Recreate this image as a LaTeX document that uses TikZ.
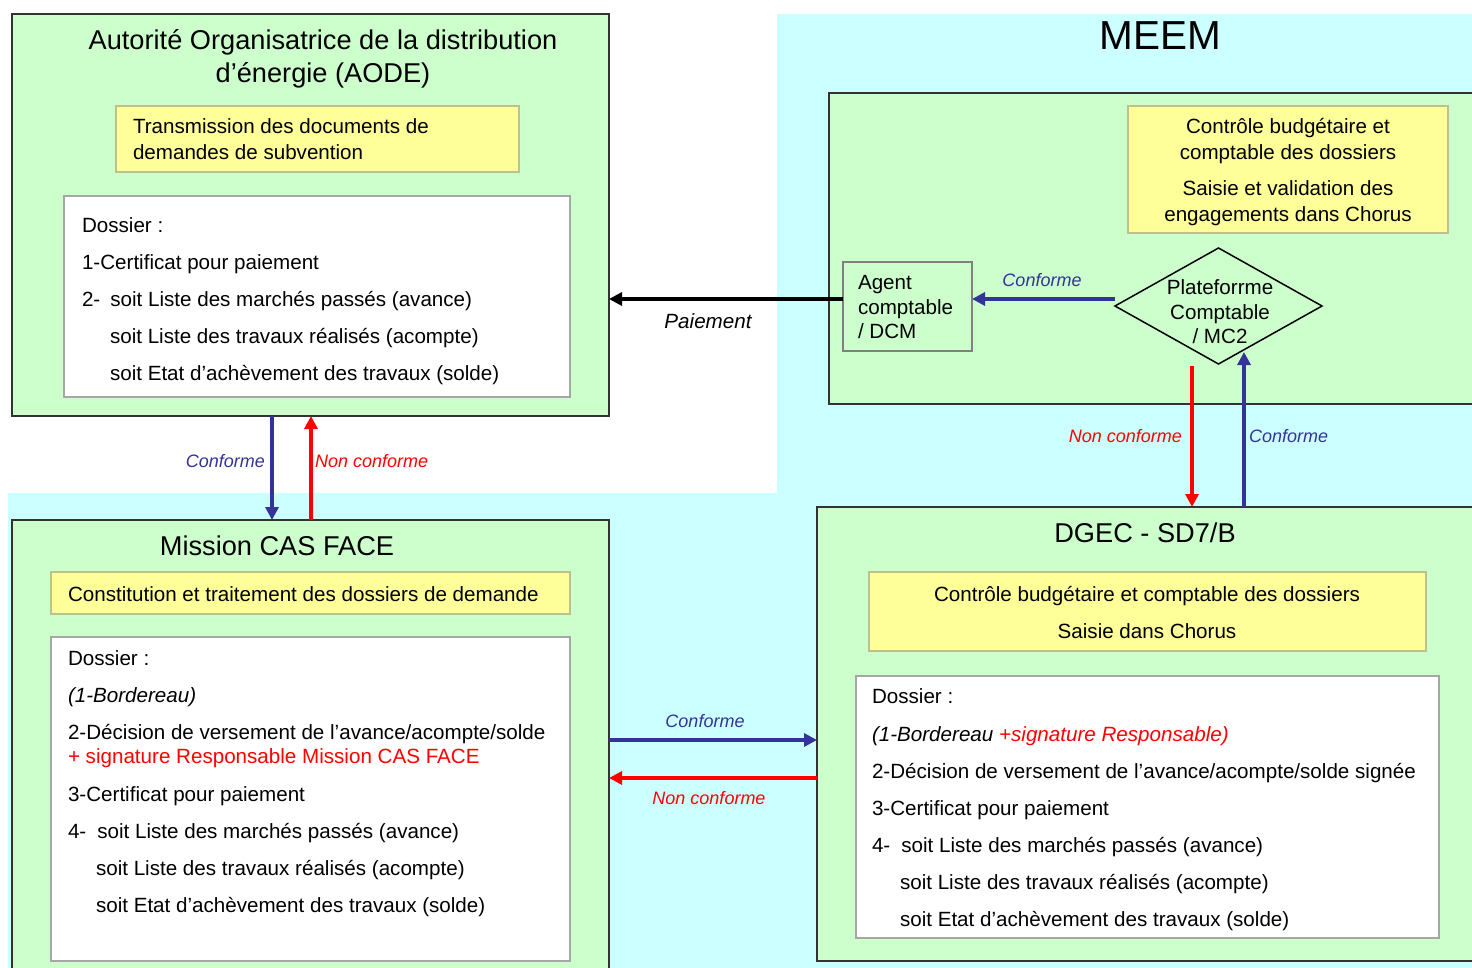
\documentclass[tikz,border=0pt]{standalone}
\usepackage{fontspec}
\setmainfont{Liberation Sans}
\usetikzlibrary{arrows.meta,shapes.geometric}
\definecolor{cgreen}{HTML}{CCFFCC}
\definecolor{ccyan}{HTML}{CCFFFF}
\definecolor{cyellow}{HTML}{FFFF99}
\definecolor{cblue}{HTML}{333399}
\definecolor{cred}{HTML}{FF0000}
\definecolor{cborder}{HTML}{333333}
\definecolor{cyborder}{HTML}{BFBF8F}
\definecolor{cwborder}{HTML}{A6A6A6}
\newcommand{\bodyfont}{\fontsize{20.6}{37}\selectfont}
\newcommand{\yfont}{\fontsize{20.6}{26}\selectfont}
\newcommand{\sfont}{\fontsize{20.6}{24.5}\selectfont}
\newcommand{\tfont}{\fontsize{27.2}{33}\selectfont}
\newcommand{\lfont}{\fontsize{18}{22}\selectfont\itshape}
\newcommand{\strutA}{\rule{0pt}{17pt}}
\newcommand{\strutT}{\rule{0pt}{22pt}}
\begin{document}
\begin{tikzpicture}[x=1pt,y=-1pt,
  panel/.style={draw=cborder,line width=2pt,fill=cgreen,anchor=north west,inner sep=0pt,outer sep=0pt},
  ybox/.style={draw=cyborder,line width=1.5pt,fill=cyellow,anchor=north west,inner sep=0pt,outer sep=0pt},
  wbox/.style={draw=cwborder,line width=1.5pt,fill=white,anchor=north west,inner sep=0pt,outer sep=0pt},
  gbox/.style={draw=gray,line width=1.2pt,fill=cgreen,anchor=north west,inner sep=0pt,outer sep=0pt},
  txt/.style={inner sep=0pt,outer sep=0pt,font=\bodyfont,align=left,anchor=north west},
  ttl/.style={inner sep=0pt,outer sep=0pt,font=\tfont,anchor=base},
  lbl/.style={inner sep=0pt,outer sep=0pt,font=\lfont},
  barrow/.style={line width=4pt,draw=cblue,-{Triangle[length=13pt,width=13pt]}},
  rarrow/.style={line width=4pt,draw=cred,-{Triangle[length=13pt,width=13pt]}},
  karrow/.style={line width=4pt,draw=black,-{Triangle[length=13pt,width=13pt]}}
]
\clip (0,0) rectangle (1472,968);
\fill[white] (0,0) rectangle (1472,968);
% cyan background
\fill[ccyan] (777,14) -- (1480,14) -- (1480,980) -- (8,980) -- (8,493) -- (777,493) -- cycle;

% ===== AODE =====
\node[panel,minimum width=597pt,minimum height=402pt] (aode) at (12,14) {};
\node[inner sep=0pt,outer sep=0pt,font=\tfont,align=center,anchor=north] (aodet) at (323,28)
  {\strutT Autorité Organisatrice de la distribution\\ d’énergie (AODE)};
\node[ybox,minimum width=403pt,minimum height=66pt] (aodey) at (116,106) {};
\node[txt,font=\yfont] (aodeyt) at (133,116.5) {\strutA Transmission des documents de\\ demandes de subvention};
\node[wbox,minimum width=506pt,minimum height=201pt] (aodew) at (64,196) {};
\node[txt] (aodewt) at (82,215.5) {\strutA Dossier :\\
1-Certificat pour paiement\\
2-\hspace{10pt}soit Liste des marchés passés (avance)\\
\hspace{28pt}soit Liste des travaux réalisés (acompte)\\
\hspace{28pt}soit Etat d’achèvement des travaux (solde)};

% ===== MEEM =====
\node[inner sep=0pt,outer sep=0pt,font=\fontsize{40.5}{48}\selectfont,anchor=base] (meemt) at (1160,50) {MEEM};
\node[panel,minimum width=700pt,minimum height=311pt] (meem) at (829,93) {};
\node[ybox,minimum width=320pt,minimum height=127pt] (meemy) at (1128,106) {};
\node[txt,font=\yfont,align=center,anchor=north] (meemyt) at (1288,116.5) {\strutA Contrôle budgétaire et\\
comptable des dossiers\\[10pt]
Saisie et validation des\\
engagements dans Chorus};
\node[gbox,minimum width=129pt,minimum height=89pt] (agent) at (843,262) {};
\node[txt,font=\sfont] (agentt) at (858,272.5) {\strutA Agent\\ comptable\\ / DCM};
\node[draw=black,line width=1.5pt,fill=cgreen,shape=diamond,inner sep=0pt,outer sep=0pt,minimum width=207pt,minimum height=116pt] (plat) at (1218.5,306) {};
\node[txt,font=\sfont,align=center,anchor=north] (platt) at (1220,277.5) {\strutA Plateforrme\\ Comptable\\ / MC2};

% ===== Mission CAS FACE =====
\node[panel,minimum width=597pt,minimum height=480pt] (mission) at (12,520) {};
\node[ttl] (missiont) at (277,555.5) {Mission CAS FACE};
\node[ybox,minimum width=519pt,minimum height=42pt] (missiony) at (51,572) {};
\node[txt] (missionyt) at (68,584.5) {\strutA Constitution et traitement des dossiers de demande};
\node[wbox,minimum width=519pt,minimum height=324pt] (missionw) at (51,637) {};
\node[txt] (missionwt) at (68,648.5) {\strutA Dossier :\\
\textit{(1-Bordereau)}\\
2-Décision de versement de l’avance/acompte/solde\\[-13pt]
{\color{cred}+ signature Responsable Mission CAS FACE}\\[1pt]
3-Certificat pour paiement\\
4-\hspace{11pt}soit Liste des marchés passés (avance)\\
\hspace{28pt}soit Liste des travaux réalisés (acompte)\\
\hspace{28pt}soit Etat d’achèvement des travaux (solde)};

% ===== DGEC =====
\node[panel,minimum width=700pt,minimum height=454pt] (dgec) at (817,507) {};
\node[ttl] (dgect) at (1145,542.5) {DGEC - SD7/B};
\node[ybox,minimum width=557pt,minimum height=79pt] (dgecy) at (869,572) {};
\node[txt,align=center,anchor=north] (dgecyt) at (1147,584.5) {\strutA Contrôle budgétaire et comptable des dossiers\\
Saisie dans Chorus};
\node[wbox,minimum width=583pt,minimum height=262pt] (dgecw) at (856,676) {};
\node[txt] (dgecwt) at (872,686.5) {\strutA Dossier :\\[1pt]
\textit{(1-Bordereau {\color{cred}+signature Responsable)}}\\
2-Décision de versement de l’avance/acompte/solde signée\\
3-Certificat pour paiement\\
4-\hspace{11pt}soit Liste des marchés passés (avance)\\
\hspace{28pt}soit Liste des travaux réalisés (acompte)\\
\hspace{28pt}soit Etat d’achèvement des travaux (solde)};

% ===== connectors =====
\coordinate (py) at (0,299);
\coordinate (xa) at (272,0);
\coordinate (xb) at (311,0);
\coordinate (xc) at (1192,0);
\coordinate (xd) at (1244,0);
\coordinate (ya) at (0,740);
\coordinate (yb) at (0,778);
\coordinate (redstart) at (1192,366);
\coordinate (blueend) at (1244,352);

\draw[karrow] (agent.west |- py) -- (aode.east |- py);
\node[lbl,font=\fontsize{20.6}{24}\selectfont\itshape,anchor=base] (paiement) at (708,328) {Paiement};

\draw[barrow] (plat.west |- py) -- (agent.east |- py);
\node[lbl,text=cblue,anchor=base] (conf1) at (1042,286.5) {Conforme};

\draw[rarrow] (redstart) -- (dgec.north -| xc);
\node[lbl,text=cred,anchor=base east] (nonconf1) at (1182,442.5) {Non conforme};
\draw[barrow] (dgec.north -| xd) -- (blueend);
\node[lbl,text=cblue,anchor=base west] (conf2) at (1249,442.5) {Conforme};

\draw[barrow] (aode.south -| xa) -- (mission.north -| xa);
\node[lbl,text=cblue,anchor=base east] (conf3) at (265,467.5) {Conforme};
\draw[rarrow] (mission.north -| xb) -- (aode.south -| xb);
\node[lbl,text=cred,anchor=base west] (nonconf3) at (315,467.5) {Non conforme};

\draw[barrow] (mission.east |- ya) -- (dgec.west |- ya);
\node[lbl,text=cblue,anchor=base] (conf4) at (705,727.5) {Conforme};
\draw[rarrow] (dgec.west |- yb) -- (mission.east |- yb);
\node[lbl,text=cred,anchor=base] (nonconf4) at (709,804.5) {Non conforme};
\end{tikzpicture}
\end{document}
